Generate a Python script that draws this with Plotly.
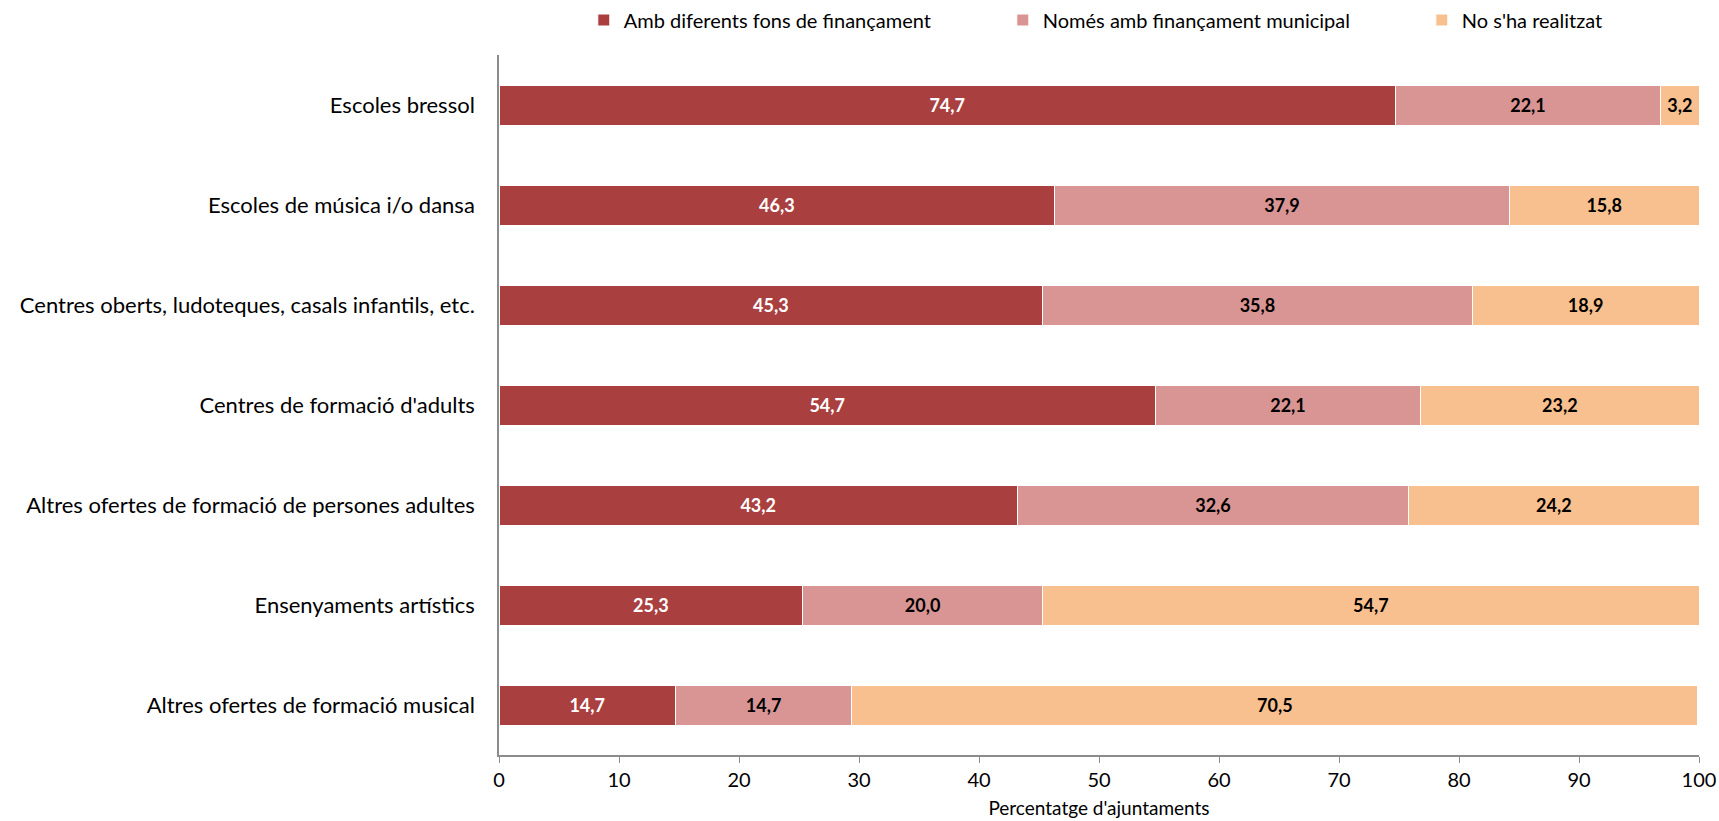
import plotly.graph_objects as go

categories = [
    "Escoles bressol",
    "Escoles de música i/o dansa",
    "Centres oberts, ludoteques, casals infantils, etc.",
    "Centres de formació d'adults",
    "Altres ofertes de formació de persones adultes",
    "Ensenyaments artístics",
    "Altres ofertes de formació musical",
]
amb_diferents = [74.7, 46.3, 45.3, 54.7, 43.2, 25.3, 14.7]
nomes_municipal = [22.1, 37.9, 35.8, 22.1, 32.6, 20.0, 14.7]
no_realitzat = [3.2, 15.8, 18.9, 23.2, 24.2, 54.7, 70.5]

series_names = ["Amb diferents fons de finançament",
                "Només amb finançament municipal",
                "No s'ha realitzat"]
series_values = [amb_diferents, nomes_municipal, no_realitzat]
colors = ["#AA3F3F", "#D99594", "#F9C08F"]
label_colors = ["white", "black", "black"]

FONT = "Lato, Open Sans, sans-serif"

fig = go.Figure()
for name, vals, col, lc in zip(series_names, series_values, colors, label_colors):
    fig.add_trace(go.Bar(
        y=categories, x=vals, name=name, orientation="h",
        marker=dict(color=col, line=dict(color="white", width=1)),
        width=0.4,
        text=[f"{v:.1f}".replace(".", ",") for v in vals],
        textposition="inside", insidetextanchor="middle",
        textfont=dict(family=FONT, size=18, color=lc, weight="bold"),
        constraintext="none",
        hoverinfo="x+y+name",
    ))

fig.update_layout(
    barmode="stack",
    width=1719, height=821,
    margin=dict(l=499, r=20, t=55, b=66, autoexpand=False),
    paper_bgcolor="white", plot_bgcolor="white",
    font=dict(family=FONT, size=20, color="black"),
    uniformtext=dict(mode=False),
    # x just below 0 so the one-row legend may use the left margin width too
    legend=dict(
        orientation="h", x=-0.001, y=1.05, xanchor="left", yanchor="middle",
        entrywidth=288, entrywidthmode="pixels", indentation=86,
        font=dict(family=FONT, size=20), itemwidth=30,
        traceorder="normal",
    ),
    xaxis=dict(
        range=[0, 100], dtick=10, showgrid=False, zeroline=False,
        showline=True, linecolor="#8c8c8c", linewidth=1.5,
        ticks="outside", tickcolor="#8c8c8c", ticklen=6,
        tickfont=dict(size=20), automargin=False,
        title=dict(text="Percentatge d'ajuntaments", font=dict(size=19), standoff=12),
    ),
    yaxis=dict(
        autorange="reversed", showgrid=False, zeroline=False,
        showline=True, linecolor="#8c8c8c", linewidth=1.5,
        ticks="", ticklabelstandoff=18, tickfont=dict(size=22),
        automargin=False,
    ),
)

# drop the default 8px body margin so the figure fills the window
fig.write_html("out.html", config={"displayModeBar": False},
               post_script="document.body.style.margin='0';")
